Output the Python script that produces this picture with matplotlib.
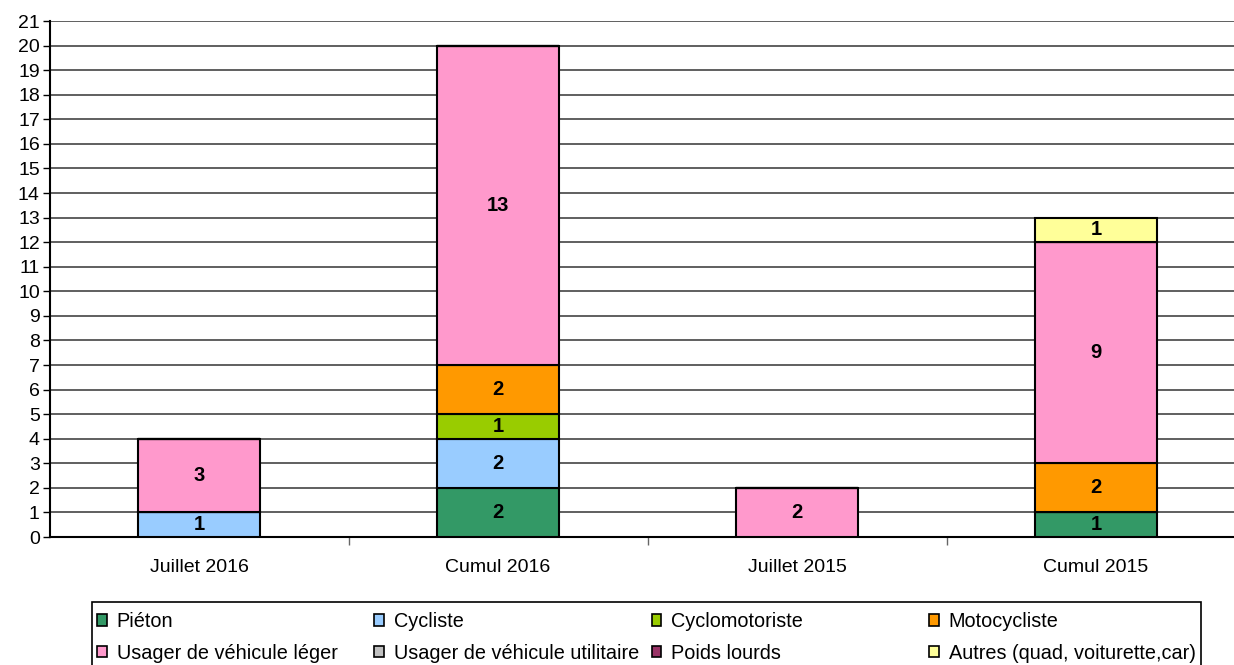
import matplotlib
matplotlib.use("Agg")
import matplotlib.pyplot as plt
from matplotlib.patches import Rectangle
import numpy as np

plt.rcParams['font.family'] = ['Liberation Sans', 'DejaVu Sans']

categories = ["Juillet 2016", "Cumul 2016", "Juillet 2015", "Cumul 2015"]
series_names = ["Piéton", "Cycliste", "Cyclomotoriste", "Motocycliste",
                "Usager de véhicule léger", "Usager de véhicule utilitaire",
                "Poids lourds", "Autres (quad, voiturette,car)"]
colors = ["#339966", "#99CCFF", "#99CC00", "#FF9900",
          "#FF99CC", "#C0C0C0", "#993366", "#FFFF99"]
pieton = [0, 2, 0, 1]
cycliste = [1, 2, 0, 0]
cyclomoto = [0, 1, 0, 0]
moto = [0, 2, 0, 2]
vl = [3, 13, 2, 9]
vu = [0, 0, 0, 0]
pl = [0, 0, 0, 0]
autres = [0, 0, 0, 1]
series = [pieton, cycliste, cyclomoto, moto, vl, vu, pl, autres]

W, H = 1234, 665
fig = plt.figure(figsize=(W/100, H/100), dpi=100)
ax = fig.add_axes([49.5/W, 1-537/H, 1196/W, 516/H])

x = np.arange(len(categories))
bottom = np.zeros(len(categories))
handles = []
for name, vals, c in zip(series_names, series, colors):
    vals = np.array(vals, dtype=float)
    bars = ax.bar(x, vals, 0.405, bottom=bottom, color=c, edgecolor='black',
                  linewidth=1.5, label=name, zorder=3)
    for xi, v, b in zip(x, vals, bottom):
        if v > 0:
            ax.text(xi, b + v/2, f"{int(v)}", ha='center', va='center',
                    fontsize=14.5, fontweight='bold', zorder=4)
    bottom += vals
    handles.append(bars)

ax.set_xlim(-0.5, 3.5)
ax.set_ylim(0, 21)
ax.set_yticks(range(0, 22))
ax.yaxis.grid(True, color='#444444', linewidth=1.2, zorder=0)
ax.set_axisbelow(True)

ax.set_xticks(np.arange(0.5, 3.5, 1.0))
ax.set_xticklabels([])
ax.set_xticks(x, minor=True)
ax.set_xticklabels(categories, minor=True)
ax.tick_params(axis='x', which='minor', length=0, pad=16, labelsize=14)
ax.tick_params(axis='x', which='major', length=6, width=1, color='#666666')
ax.tick_params(axis='y', length=5, width=1, labelsize=14, pad=2)

for s in ['top', 'right']:
    ax.spines[s].set_visible(False)
ax.spines['left'].set_linewidth(1.5)
ax.spines['bottom'].set_linewidth(1.5)

# Legend: frame + 4 equal-width columns (two rows, row-major order)
frame_left, frame_right, frame_top = 92, 1201, 602
fig.patches.append(Rectangle((frame_left/W, -20/H), (frame_right-frame_left)/W,
                             (H - frame_top + 20)/H, transform=fig.transFigure,
                             facecolor='white', edgecolor='black', linewidth=1.2,
                             zorder=1))
col_w = (frame_right - frame_left) / 4
fs = 14.3
pad_px = 0.5 * fs * 100 / 72
for j in range(4):
    hx = frame_left + 5 + j * col_w
    leg = fig.legend(handles=[handles[j], handles[j+4]],
                     labels=[series_names[j], series_names[j+4]], ncol=1,
                     loc='upper left',
                     bbox_to_anchor=((hx - pad_px)/W, 1 - frame_top/H),
                     frameon=False, fontsize=fs, handlelength=0.5,
                     handleheight=0.5, handletextpad=0.5, labelspacing=0.65,
                     borderaxespad=0, borderpad=0.5)
    leg.set_zorder(2)
    for h in leg.legend_handles:
        h.set_linewidth(1.2)

fig.savefig("out.png", dpi=100)
